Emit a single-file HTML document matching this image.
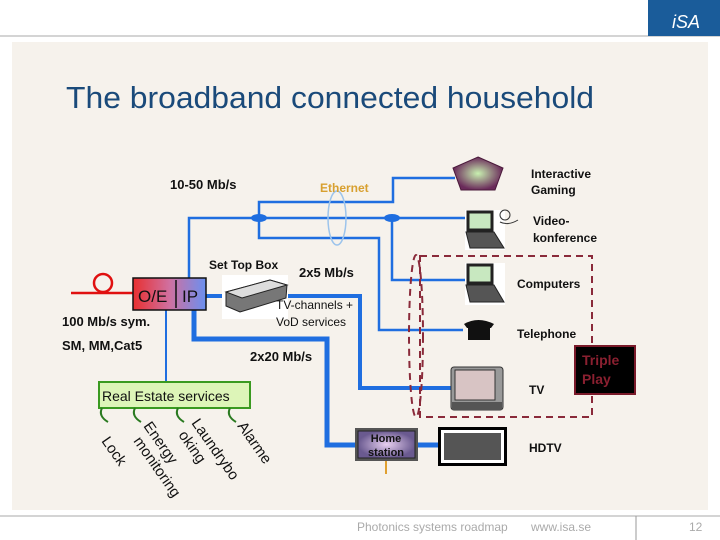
<!DOCTYPE html>
<html><head><meta charset="utf-8"><style>
html,body{margin:0;padding:0;background:#fff;width:720px;height:540px;overflow:hidden}
svg{display:block;font-family:"Liberation Sans",Arial,sans-serif}
</style></head><body>
<svg width="720" height="540" viewBox="0 0 720 540" xmlns="http://www.w3.org/2000/svg">
<defs>
<linearGradient id="oe" x1="0" x2="1" y1="0" y2="0"><stop offset="0" stop-color="#e83030"/><stop offset="0.5" stop-color="#d070a0"/><stop offset="1" stop-color="#6a90f0"/></linearGradient>
<radialGradient id="pg"><stop offset="0" stop-color="#c8f0b0"/><stop offset="1" stop-color="#6a2a5a"/></radialGradient>
<radialGradient id="hs"><stop offset="0" stop-color="#e8d0f0"/><stop offset="1" stop-color="#6a5a90"/></radialGradient>
</defs>
<line x1="0" y1="36" x2="720" y2="36" stroke="#aaa" stroke-width="1"/>
<rect x="648" y="0" width="72" height="36" fill="#1a5c9a"/>
<text x="672" y="28" font-size="18" fill="#fff" font-style="italic">iSA</text>
<rect x="12" y="42" width="696" height="468" fill="#f6f2ec"/>
<text x="66" y="108" font-size="30.5" fill="#1a4a7a" textLength="528" lengthAdjust="spacingAndGlyphs">The broadband connected household</text>

<g fill="none" stroke="#1f6ee0" stroke-width="2.5">
<polyline points="189,278 189,218 467,218"/>
<polyline points="259,218 259,202 393,202 393,178 455,178"/>
<polyline points="259,218 259,238 379,238 379,330 463,330"/>
<polyline points="392,218 392,280 465,280"/>
<line x1="166" y1="310" x2="166" y2="382" stroke-width="2"/>
</g>
<g fill="none" stroke="#1f6ee0">
<polyline points="206,296 222,296" stroke-width="4"/>
<polyline points="288,296 360,296 360,388 452,388" stroke-width="4"/>
<polyline points="194,310 194,339 327,339 327,445 355,445" stroke-width="5"/>
<line x1="418" y1="445" x2="438" y2="445" stroke-width="5"/>
</g>
<ellipse cx="259" cy="218" rx="8" ry="4" fill="#1f6ee0"/>
<ellipse cx="392" cy="218" rx="8" ry="4" fill="#1f6ee0"/>
<ellipse cx="337" cy="218" rx="9" ry="27" fill="none" stroke="#9cc4ec" stroke-width="1.5"/>
<text x="320" y="192" font-size="12" font-weight="bold" fill="#d8a030">Ethernet</text>

<line x1="71" y1="293" x2="133" y2="293" stroke="#e01010" stroke-width="2.5"/>
<circle cx="103" cy="283" r="9" fill="none" stroke="#e01010" stroke-width="2.5"/>
<rect x="133" y="278" width="73" height="32" fill="url(#oe)" stroke="#111" stroke-width="1.5"/>
<line x1="176" y1="280" x2="176" y2="308" stroke="#111" stroke-width="1.5"/>
<text x="138" y="302" font-size="17" fill="#111">O/E</text>
<text x="182" y="302" font-size="17" fill="#111">IP</text>

<rect x="222" y="275" width="66" height="44" fill="#fff"/>
<polygon points="226,292 270,280 287,285 286,298 240,312 226,306" fill="#777" stroke="#222"/>
<polygon points="226,292 270,280 287,285 242,298" fill="#ddd" stroke="#222"/>

<polygon points="478,157 503,168 495,190 461,190 453,168" fill="url(#pg)" stroke="#4a1a3a"/>
<g>
<rect x="465" y="210" width="40" height="40" fill="#fff"/>
<rect x="468" y="212" width="24" height="18" fill="#c8e8c0" stroke="#222" stroke-width="3"/>
<polygon points="466,232 494,232 504,248 470,248" fill="#555" stroke="#222"/>
<rect x="465" y="263" width="40" height="42" fill="#fff"/>
<rect x="468" y="265" width="24" height="18" fill="#c8e8c0" stroke="#222" stroke-width="3"/>
<polygon points="466,285 494,285 504,302 470,302" fill="#555" stroke="#222"/>
<circle cx="505" cy="215" r="5" fill="none" stroke="#333"/>
<path d="M500,222 q8,4 18,-2" fill="none" stroke="#333"/>
</g>
<path d="M464,324 q14,-8 30,0 l-3,4 h-24 z" fill="#111"/>
<rect x="468" y="328" width="22" height="12" fill="#111"/>
<rect x="451" y="367" width="52" height="43" rx="3" fill="#999" stroke="#333"/>
<rect x="455" y="370" width="40" height="30" fill="#d8c4c4" stroke="#333"/>
<rect x="452" y="402" width="50" height="8" fill="#555"/>
<rect x="438" y="427" width="69" height="39" fill="#000"/>
<rect x="441" y="430" width="63" height="33" fill="#fff"/>
<rect x="444" y="433" width="57" height="27" fill="#555"/>
<rect x="355" y="428" width="63" height="33" fill="#555"/>
<rect x="358" y="431" width="57" height="27" fill="url(#hs)" stroke="#222"/>
<text x="386" y="442" font-size="11" font-weight="bold" text-anchor="middle" fill="#111">Home</text>
<text x="386" y="456" font-size="11" font-weight="bold" text-anchor="middle" fill="#111">station</text>
<line x1="386" y1="461" x2="386" y2="474" stroke="#e0a030" stroke-width="2"/>

<rect x="420" y="256" width="172" height="161" fill="none" stroke="#8a2a3a" stroke-width="2" stroke-dasharray="7,5"/>
<ellipse cx="416" cy="336" rx="7" ry="81" fill="none" stroke="#8a2a3a" stroke-width="2" stroke-dasharray="7,5"/>
<rect x="575" y="346" width="60" height="48" fill="#000" stroke="#7a1a2a" stroke-width="2"/>
<text x="582" y="365" font-size="14" font-weight="bold" fill="#8a2030">Triple</text>
<text x="582" y="384" font-size="14" font-weight="bold" fill="#8a2030">Play</text>

<rect x="99" y="382" width="151" height="26" fill="#ddf5b8" stroke="#3a9a20" stroke-width="2"/>
<text x="102" y="401" font-size="14" fill="#111">Real Estate services</text>
<g fill="none" stroke="#2a7a20" stroke-width="2">
<path d="M102,408 q-4,8 6,14"/><path d="M135,408 q-4,8 6,14"/><path d="M178,408 q-4,8 6,14"/><path d="M230,408 q-4,8 6,14"/>
</g>
<g font-size="15" fill="#111">
<text transform="translate(101,441) rotate(55)">Lock</text>
<text transform="translate(133,441) rotate(55)">monitoring</text>
<text transform="translate(143,426) rotate(55)">Energy</text>
<text transform="translate(178,435) rotate(55)">oking</text>
<text transform="translate(191,423) rotate(55)">Laundrybo</text>
<text transform="translate(237,426) rotate(55)">Alarme</text>
</g>

<g font-weight="bold" fill="#111">
<text x="170" y="189" font-size="13">10-50 Mb/s</text>
<text x="209" y="269" font-size="12">Set Top Box</text>
<text x="299" y="277" font-size="13">2x5 Mb/s</text>
<text x="62" y="326" font-size="13">100 Mb/s sym.</text>
<text x="62" y="350" font-size="13">SM, MM,Cat5</text>
<text x="250" y="361" font-size="13">2x20 Mb/s</text>
<text x="531" y="178" font-size="12">Interactive</text>
<text x="531" y="194" font-size="12">Gaming</text>
<text x="533" y="225" font-size="12">Video-</text>
<text x="533" y="242" font-size="12">konference</text>
<text x="517" y="288" font-size="12">Computers</text>
<text x="517" y="338" font-size="12">Telephone</text>
<text x="529" y="394" font-size="12">TV</text>
<text x="529" y="452" font-size="12">HDTV</text>
</g>
<text x="276" y="309" font-size="12" fill="#111">TV-channels +</text>
<text x="276" y="326" font-size="12" fill="#111">VoD services</text>

<line x1="0" y1="516" x2="720" y2="516" stroke="#aaa"/>
<line x1="636" y1="516" x2="636" y2="540" stroke="#999"/>
<text x="357" y="531" font-size="12" fill="#aaa">Photonics systems roadmap</text>
<text x="531" y="531" font-size="12" fill="#aaa">www.isa.se</text>
<text x="689" y="531" font-size="12" fill="#aaa">12</text>
</svg>
</body></html>
